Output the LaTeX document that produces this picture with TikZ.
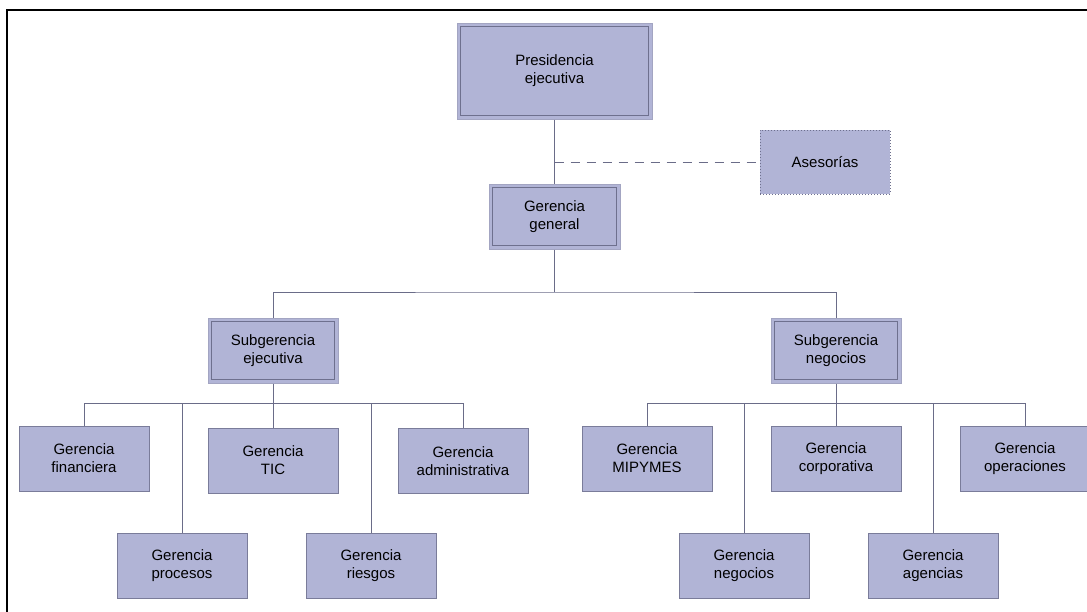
\documentclass[tikz,border=0pt]{standalone}
\usepackage{fontspec}
\setmainfont{Liberation Sans}
\definecolor{boxfill}{HTML}{B1B4D6}
\definecolor{boxline}{HTML}{7A7C9A}
\definecolor{outerline}{HTML}{A3A5C2}
\definecolor{innerline}{HTML}{6E708E}
\definecolor{wire}{HTML}{6A6C88}
\tikzset{
  unit/.style={draw=boxline, fill=boxfill, line width=1pt, inner sep=0pt,
    minimum width=130pt, minimum height=65pt, align=center,
    font=\fontsize{15}{18}\selectfont},
  headunit/.style={unit, draw=outerline,
    path picture={\draw[innerline, line width=1pt]
      ([shift={(3.5pt,3.5pt)}]path picture bounding box.south west) rectangle
      ([shift={(-3.5pt,-3.5pt)}]path picture bounding box.north east);}},
  advisory/.style={unit, draw=innerline, dotted, line width=0.8pt},
  wireline/.style={draw=wire, line width=1pt},
  staffline/.style={draw=wire, line width=1pt, dash pattern=on 9pt off 7pt},
}
\begin{document}
\begin{tikzpicture}[x=1pt, y=-1pt]
\useasboundingbox (0,0) rectangle (1087,611);
% outer frame (top and left edges)
\draw[black, line width=2.5pt] (7,615) -- (7,10) -- (1092,10);

% top management
\node[headunit, minimum width=195pt, minimum height=96pt] (pres) at (554.5,71) {Presidencia\\ejecutiva};
\node[headunit, minimum width=131pt] (gg) at (554.5,216.5) {Gerencia\\general};
\node[advisory, minimum height=64pt] (ases) at (825,162) {Asesorías};

% deputy managements
\node[headunit] (se) at (273,350.5) {Subgerencia\\ejecutiva};
\node[headunit] (sn) at (836,350.5) {Subgerencia\\negocios};

% units under Subgerencia ejecutiva
\node[unit] (fin)  at (84,458.5)  {Gerencia\\financiera};
\node[unit] (tic)  at (273,460.5) {Gerencia\\TIC};
\node[unit] (adm)  at (463,461)   {Gerencia\\administrativa};
\node[unit] (proc) at (182,566)   {Gerencia\\procesos};
\node[unit] (ries) at (371,566)   {Gerencia\\riesgos};

% units under Subgerencia negocios
\node[unit] (mip)  at (647,458.5)  {Gerencia\\MIPYMES};
\node[unit] (corp) at (836,458.5)  {Gerencia\\corporativa};
\node[unit] (oper) at (1025,458.5) {Gerencia\\operaciones};
\node[unit] (neg)  at (744,566)    {Gerencia\\negocios};
\node[unit] (agen) at (933,566)    {Gerencia\\agencias};

% junction points
\coordinate (top) at (554.5,292);
\coordinate (lb) at (273,403);
\coordinate (rb) at (836,403);

% connectors
\draw[wireline] (pres.south) -- (gg.north);
\draw[staffline] (pres.south |- ases.west) -- (ases.west);
\draw[wireline] (gg.south) -- (top);
\draw[wireline] (se.north) |- (top) -| (sn.north);

\draw[wireline] (se.south) -- (lb);
\foreach \n in {fin,tic,adm,proc,ries} \draw[wireline] (lb) -| (\n.north);

\draw[wireline] (sn.south) -- (rb);
\foreach \n in {mip,corp,oper,neg,agen} \draw[wireline] (rb) -| (\n.north);
\end{tikzpicture}
\end{document}
